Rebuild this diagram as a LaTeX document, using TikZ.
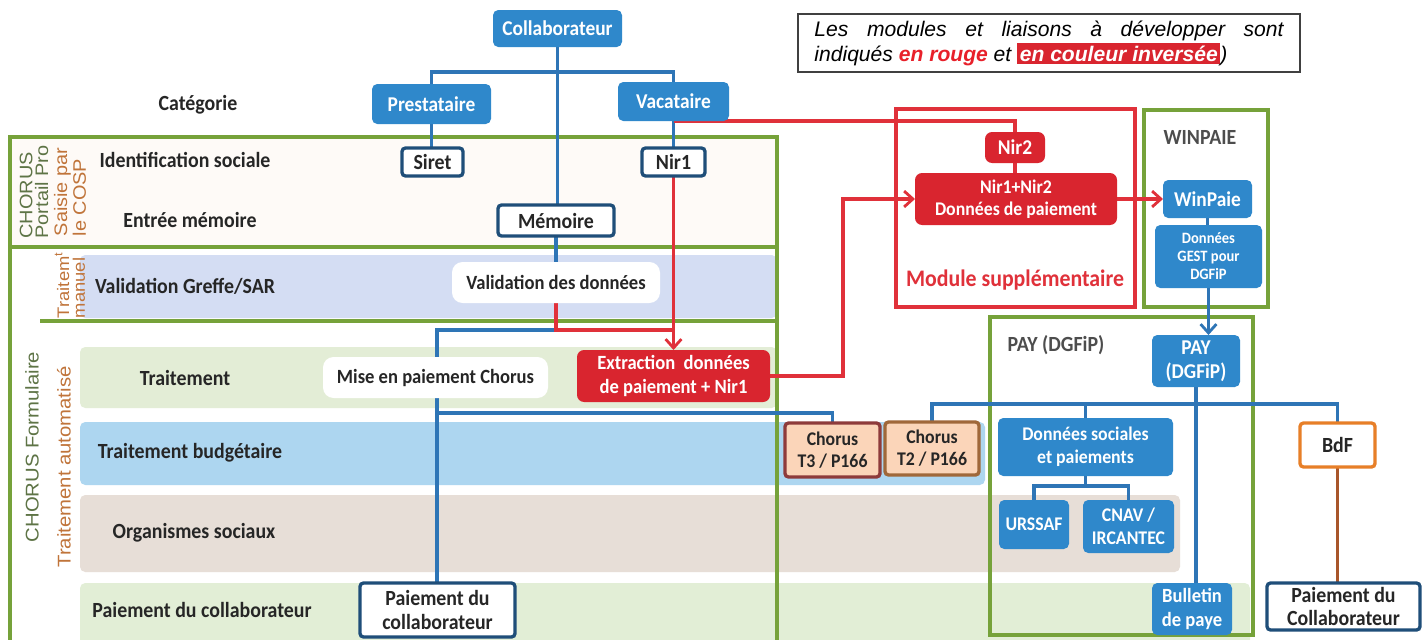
\documentclass[tikz,border=0pt]{standalone}
\usepackage{fontspec}
\setmainfont{Carlito}[FakeStretch=0.92]
\newfontfamily\notefont{Liberation Sans}
\newfontfamily\vfont{Liberation Sans}[FakeStretch=1.1]
\usetikzlibrary{arrows.meta,calc}
\pgfdeclarelayer{bands}
\pgfdeclarelayer{links}
\pgfsetlayers{bands,links,main}
\definecolor{bblue}{HTML}{2F88CB}
\definecolor{lblue}{HTML}{2E75B6}
\definecolor{dblue}{HTML}{1F4E79}
\definecolor{rred}{HTML}{D9252F}
\definecolor{lred}{HTML}{E0313A}
\definecolor{ggreen}{HTML}{76A23A}
\definecolor{olive}{HTML}{5E7446}
\definecolor{rust}{HTML}{C0743A}
\definecolor{bandA}{HTML}{D4DDF3}
\definecolor{bandB}{HTML}{E3EDD6}
\definecolor{bandC}{HTML}{ADD6F0}
\definecolor{bandD}{HTML}{E7DED7}
\definecolor{bandE}{HTML}{E2EED6}
\definecolor{pinkish}{HTML}{FEFAF7}
\definecolor{peach}{HTML}{FBD5B9}
\definecolor{tthree}{HTML}{8E3B3B}
\definecolor{ttwo}{HTML}{A0683A}
\definecolor{bdfborder}{HTML}{E77F28}
\definecolor{bdfline}{HTML}{A8562A}
\definecolor{txt}{HTML}{262626}
\definecolor{notered}{HTML}{E8202A}
\definecolor{graytxt}{HTML}{4D4D4D}
\newcommand{\bx}[7]{\node[#6, minimum width={(#4-#2)*0.02cm}, minimum height={(#5-#3)*0.02cm}] (#1) at ({(#2+#4)/2},{(#3+#5)/2}) {#7};}
\tikzset{
 every node/.style={inner sep=0pt, outer sep=0pt},
 lbl/.style={text=txt, font=\fontsize{12.3}{14}\selectfont\bfseries},
 bluebox/.style={fill=bblue, rounded corners=3pt, text=white, align=center, font=\fontsize{12}{13.5}\selectfont\bfseries},
 whitebox/.style={fill=white, draw=dblue, line width=1.9pt, rounded corners=2pt, text=txt, align=center, font=\fontsize{12.3}{13.5}\selectfont\bfseries},
 softbox/.style={fill=white, rounded corners=6pt, text=txt, align=center, font=\fontsize{11.5}{13}\selectfont\bfseries},
 redbox/.style={fill=rred, rounded corners=4pt, text=white, align=center, font=\fontsize{11}{12.5}\selectfont\bfseries},
 peachbox/.style={fill=peach, line width=1.9pt, rounded corners=2pt, text=txt, align=center, font=\fontsize{11}{12.5}\selectfont\bfseries},
 vlabel/.style={rotate=90, align=left, font=\vfont\fontsize{10.3}{9}\selectfont},
 bline/.style={draw=lblue, line width=1.9pt},
 rline/.style={draw=lred, line width=1.9pt},
 gframe/.style={draw=ggreen, line width=2pt},
 barbtip/.style={-{Straight Barb[length=5pt,width=9pt,line width=1.6pt]}},
}
\begin{document}
\begin{tikzpicture}[x=0.02cm, y=-0.02cm]
\useasboundingbox (0,0) rectangle (1422,639);
\begin{pgfonlayer}{bands}
 \fill[white] (0,0) rectangle (1422,639);
 \fill[pinkish] (12,139) rectangle (775,245);
 \fill[bandA, rounded corners=3pt] (80,255) rectangle (777,318);
 \fill[bandB, rounded corners=3pt] (80,347) rectangle (777,408);
 \fill[bandC, rounded corners=3pt] (80,422) rectangle (985,485);
 \fill[bandD, rounded corners=3pt] (80,495) rectangle (1180,572);
 \fill[bandE, rounded corners=3pt] (80,583) rectangle (1250,650);
 \draw[gframe] (10,137) rectangle (777,247);
 \draw[gframe] (10,650) -- (10,247) -- (777,247) -- (777,650);
 \draw[gframe] (40,321) -- (777,321);
 \draw[gframe] (1144,110) rectangle (1268,307);
 \draw[gframe] (990,317) rectangle (1253,635);
 \draw[draw=lred, line width=2pt] (896,109) rectangle (1135,307);
\end{pgfonlayer}

% note
\node[draw=black!75, line width=0.8pt, minimum width={502*0.02cm}, minimum height={58*0.02cm}, inner xsep=9pt, text width=267pt, align=justify, font=\notefont\itshape\fontsize{12}{14.2}\selectfont, fill=white] (note) at (1049,43) {\setlength{\fboxsep}{1.5pt}Les modules et liaisons à développer sont\linebreak indiqués {\bfseries\color{notered}en rouge} et \colorbox{rred}{\bfseries\color{white}en couleur inversée})};

% row labels
\node[lbl] (lcat) at (198,105) {Catégorie};
\node[lbl] (lid) at (185,160) {Identification sociale};
\node[lbl] (lmem) at (190,220) {Entrée mémoire};
\node[lbl] (lval) at (185,286) {Validation Greffe/SAR};
\node[lbl] (ltrt) at (185,378) {Traitement};
\node[lbl] (lbud) at (190,453) {Traitement budgétaire};
\node[lbl] (lorg) at (194,533) {Organismes sociaux};
\node[lbl] (lpai) at (202,610) {Paiement du collaborateur};

% vertical labels
\node[vlabel, text=olive] (vportail) at (34,192) {CHORUS\\Portail Pro};
\node[vlabel, text=rust] (vsaisie) at (70,192) {Saisie par\\le COSP};
\node[vlabel, text=rust, font=\vfont\fontsize{9.5}{9}\selectfont] (vmanuel) at (70,285) {Traitem\textsuperscript{t}\\manuel};
\node[vlabel, text=olive, font=\vfont\fontsize{10.5}{12}\selectfont] (vform) at (32,447) {CHORUS Formulaire};
\node[vlabel, text=rust, font=\vfont\fontsize{10.5}{12}\selectfont] (vauto) at (64,467) {Traitement automatisé};

% boxes
\bx{collab}{493}{10}{622}{47}{bluebox}{Collaborateur}
\bx{prest}{372}{84}{491}{124}{bluebox}{Prestataire}
\bx{vac}{618}{82}{729}{121}{bluebox}{Vacataire}
\bx{siret}{402}{148}{463}{176}{whitebox}{Siret}
\bx{nir1}{642}{148}{705}{176}{whitebox}{Nir1}
\bx{memoire}{498}{205}{614}{236}{whitebox}{Mémoire}
\bx{valid}{452}{262}{660}{303}{softbox}{Validation des données}
\bx{mise}{323}{357}{548}{398}{softbox}{Mise en paiement Chorus}
\bx{extr}{577}{350}{770}{402}{redbox, font=\fontsize{11.5}{14}\selectfont\bfseries}{Extraction\ \ données\\de paiement + Nir1}
\bx{tthreebox}{785}{423}{880}{477}{peachbox, draw=tthree}{Chorus\\T3 / P166}
\bx{ttwobox}{885}{422}{979}{475}{peachbox, draw=ttwo}{Chorus\\T2 / P166}
\bx{paie1}{360}{583}{515}{637}{whitebox}{Paiement du\\collaborateur}
\bx{nir2}{985}{132}{1045}{163}{redbox, font=\fontsize{12}{13}\selectfont\bfseries}{Nir2}
\bx{nir12}{915}{173}{1117}{225}{redbox}{Nir1+Nir2\\Données de paiement}
\node[text=lred, font=\fontsize{13.5}{15}\selectfont\bfseries] (modlbl) at (1015,280) {Module supplémentaire};
\node[text=graytxt, font=\fontsize{12.3}{14}\selectfont\bfseries] (winlbl) at (1200,137) {WINPAIE};
\bx{winpaie}{1163}{180}{1252}{218}{bluebox}{WinPaie}
\bx{gest}{1155}{225}{1262}{288}{bluebox, font=\fontsize{9}{10.2}\selectfont\bfseries}{Données\\GEST pour\\DGFiP}
\node[text=graytxt, font=\fontsize{12.3}{14}\selectfont\bfseries] (paylbl) at (1056,345) {PAY (DGFiP)};
\bx{pay}{1152}{335}{1240}{387}{bluebox}{PAY\\(DGFiP)}
\bx{ds}{998}{418}{1173}{476}{bluebox, font=\fontsize{11}{13}\selectfont\bfseries}{Données sociales\\et paiements}
\bx{urssaf}{999}{500}{1069}{549}{bluebox, font=\fontsize{11}{13}\selectfont\bfseries}{URSSAF}
\bx{cnav}{1083}{500}{1174}{553}{bluebox, font=\fontsize{11}{13}\selectfont\bfseries}{CNAV /\\IRCANTEC}
\bx{bdf}{1300}{423}{1375}{467}{whitebox, draw=bdfborder}{BdF}
\bx{bull}{1152}{583}{1232}{635}{bluebox, font=\fontsize{11.5}{13.5}\selectfont\bfseries}{Bulletin\\de paye}
\bx{paie2}{1267}{583}{1420}{630}{whitebox}{Paiement du\\Collaborateur}

\coordinate (jcat) at (557,72);
\coordinate (jval) at (437,330);
\coordinate (jbud) at (437,413);
\coordinate (jred) at (673,330);
\coordinate (jext) at (843,376);
\coordinate (jpay) at (1196,404);
\coordinate (jds) at (1085,486);

\begin{pgfonlayer}{links}
 \draw[bline] (collab.south) -- (collab.south |- memoire.north);
 \draw[bline] (prest.north) |- (jcat) -| (vac.north);
 \draw[bline] (prest.south) -- (prest.south |- siret.north);
 \draw[bline] (vac.south) -- (vac.south |- nir1.north);
 \draw[bline] (memoire.south) -- (memoire.south |- valid.north);
 \draw[bline] (valid.south |- jval) -- (jval) -- (jval |- paie1.north);
 \draw[bline] (jbud) -| (tthreebox.north);
 \draw[bline] (ttwobox.north) |- (jpay) -| (bdf.north);
 \draw[bline] (ds.north) -- (ds.north |- jpay);
 \draw[bline] (pay.south) -- (pay.south |- bull.north);
 \draw[bline] (urssaf.north) |- (jds) -| (cnav.north);
 \draw[bline] (ds.south) -- (ds.south |- jds);
 \draw[bline] (winpaie.south) -- (winpaie.south |- gest.north);
 \draw[bline, barbtip] (gest.south) -- (gest.south |- pay.north);
 \draw[draw=bdfline, line width=1.9pt] (bdf.south) -- (bdf.south |- paie2.north);
 \draw[rline] (vac.south) -| (nir2.north);
 \draw[rline, barbtip] (nir1.south) -- (extr.north);
 \draw[rline] (valid.south) |- (jred);
 \draw[rline, barbtip] (extr.east) -- (jext) |- (nir12.west);
 \draw[rline] (nir2.south) -- (nir2.south |- nir12.north);
 \draw[rline, barbtip] (nir12.east) -- (nir12.east -| winpaie.west);
\end{pgfonlayer}
\end{tikzpicture}
\end{document}
